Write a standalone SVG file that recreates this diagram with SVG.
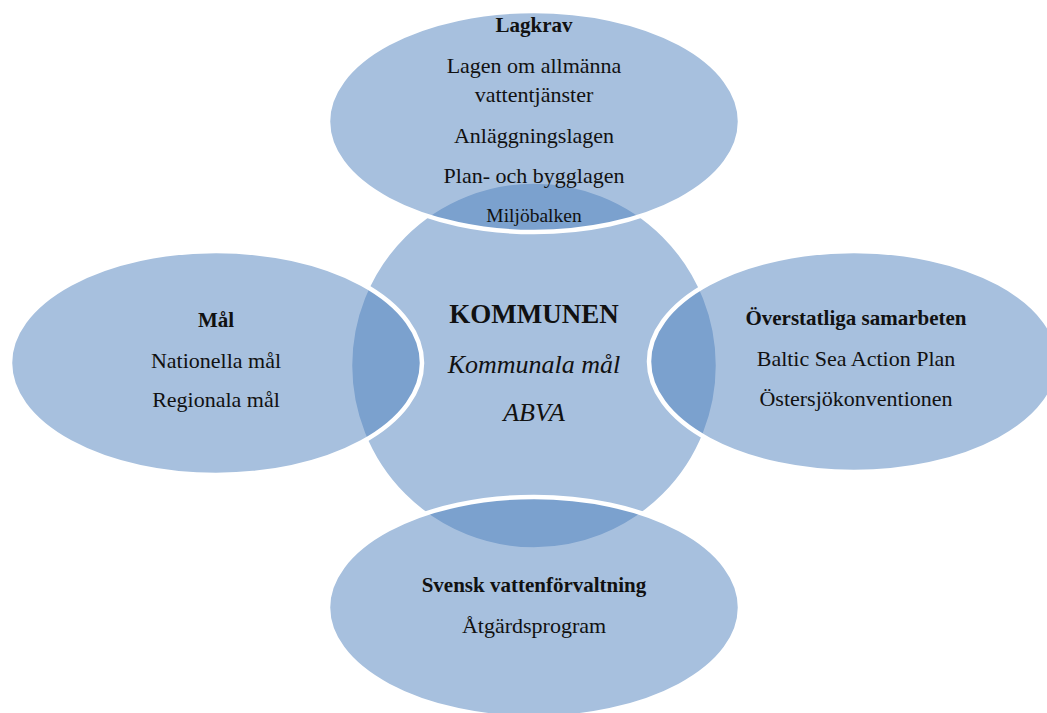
<svg xmlns="http://www.w3.org/2000/svg" width="1047" height="713" viewBox="0 0 1047 713">
<style>
.shape{fill:#4F81BD;fill-opacity:0.5;stroke:#FFFFFF;stroke-width:4.5}
text{font-family:"Liberation Serif","Times New Roman",serif;fill:#111;text-anchor:middle}
.r{font-size:22px}
.b{font-size:21px;font-weight:bold}
.s{font-size:19.5px}
.big{font-size:27px;font-weight:bold}
.it{font-size:26px;font-style:italic}
</style>
<rect width="1047" height="713" fill="#FFFFFF"/>
<g id="kommunen-shape"><circle class="shape" cx="534" cy="365.5" r="184"/></g>
<g id="lagkrav">
<ellipse class="shape" cx="534" cy="121.5" rx="206" ry="110.5"/>
<text class="b" x="534" y="32">Lagkrav</text>
<text class="r" x="534" y="73">Lagen om allmänna</text>
<text class="r" x="534" y="102">vattentjänster</text>
<text class="r" x="534" y="143">Anläggningslagen</text>
<text class="r" x="534" y="183">Plan- och bygglagen</text>
<text class="s" x="534" y="222">Miljöbalken</text>
</g>
<g id="mal">
<ellipse class="shape" cx="216" cy="363" rx="206" ry="112"/>
<text class="b" x="216" y="327">Mål</text>
<text class="r" x="216" y="368">Nationella mål</text>
<text class="r" x="216" y="407">Regionala mål</text>
</g>
<g id="overstatliga">
<ellipse class="shape" cx="854" cy="361.5" rx="205" ry="110.5"/>
<text class="b" x="856" y="325">Överstatliga samarbeten</text>
<text class="r" x="856" y="366">Baltic Sea Action Plan</text>
<text class="r" x="856" y="406">Östersjökonventionen</text>
</g>
<g id="vattenforvaltning">
<ellipse class="shape" cx="534" cy="607.5" rx="206" ry="110.5"/>
<text class="b" x="534" y="592">Svensk vattenförvaltning</text>
<text class="r" x="534" y="633">Åtgärdsprogram</text>
</g>
<g id="kommunen">
<text class="big" x="534" y="323">KOMMUNEN</text>
<text class="it" x="534" y="373">Kommunala mål</text>
<text class="it" x="534" y="421">ABVA</text>
</g>
<g id="connectors"></g>
</svg>
